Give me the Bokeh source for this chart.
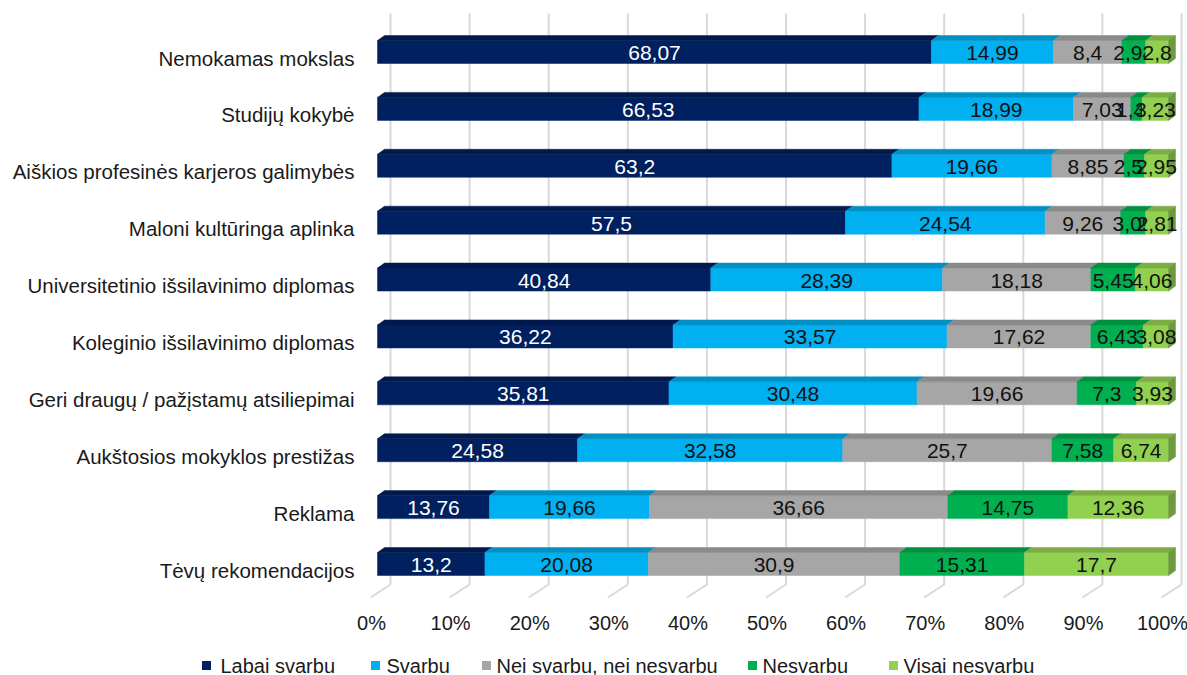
from bokeh.plotting import figure
from bokeh.models import Range1d
from bokeh.core.properties import value
from bokeh.embed import file_html
from bokeh.resources import INLINE

# ---------------- data ----------------
categories = [
    "Nemokamas mokslas",
    "Studijų kokybė",
    "Aiškios profesinės karjeros galimybės",
    "Maloni kultūringa aplinka",
    "Universitetinio išsilavinimo diplomas",
    "Koleginio išsilavinimo diplomas",
    "Geri draugų / pažįstamų atsiliepimai",
    "Aukštosios mokyklos prestižas",
    "Reklama",
    "Tėvų rekomendacijos",
]
series_names = ["Labai svarbu", "Svarbu", "Nei svarbu, nei nesvarbu", "Nesvarbu", "Visai nesvarbu"]
labai_svarbu = [68.07, 66.53, 63.2, 57.5, 40.84, 36.22, 35.81, 24.58, 13.76, 13.2]
svarbu = [14.99, 18.99, 19.66, 24.54, 28.39, 33.57, 30.48, 32.58, 19.66, 20.08]
nei_svarbu_nei_nesvarbu = [8.4, 7.03, 8.85, 9.26, 18.18, 17.62, 19.66, 25.7, 36.66, 30.9]
nesvarbu = [2.94, 1.41, 2.52, 3.09, 5.45, 6.43, 7.3, 7.58, 14.75, 15.31]
visai_nesvarbu = [2.8, 3.23, 2.95, 2.81, 4.06, 3.08, 3.93, 6.74, 12.36, 17.7]
tick_values = [0, 10, 20, 30, 40, 50, 60, 70, 80, 90, 100]
tick_labels = ["0%", "10%", "20%", "30%", "40%", "50%", "60%", "70%", "80%", "90%", "100%"]

series = [labai_svarbu, svarbu, nei_svarbu_nei_nesvarbu, nesvarbu, visai_nesvarbu]

# ---------------- style / layout ----------------
front_colors = ["#002060", "#00b0f0", "#a6a6a6", "#00b050", "#92d050"]
top_colors = ["#001a4d", "#0090c4", "#8a8a8a", "#00913f", "#7cad45"]
side_color = "#6c9a3c"
label_colors = ["#ffffff", "#111111", "#111111", "#111111", "#111111"]
FONT = value("Liberation Sans")

W, H = 1187, 675
ORIGIN = 0                 # page px where the canvas starts
PX_PER_PCT = 7.91          # horizontal scale
X0 = 377 - ORIGIN          # canvas px of 0 %
ROW0 = 51.5 - ORIGIN       # canvas px of first row centre
ROW_STEP = 56.89           # px between rows


def dxp(px):
    return px / PX_PER_PCT


def dyp(px):
    return px / ROW_STEP


def row_at(page_py):
    return (page_py - ORIGIN - ROW0) / ROW_STEP


def col_at(page_px):
    return (page_px - ORIGIN - X0) / PX_PER_PCT


BAR_H = dyp(23)
DEPTH_X = dxp(7)
DEPTH_Y = dyp(5)

p = figure(width=W, height=H, output_backend="svg", toolbar_location=None,
           x_range=Range1d(-X0 / PX_PER_PCT, (W - X0) / PX_PER_PCT),
           y_range=Range1d((H - ROW0) / ROW_STEP, -ROW0 / ROW_STEP),
           min_border=0, x_axis_location=None, y_axis_location=None)
p.outline_line_color = None
p.xgrid.visible = False
p.ygrid.visible = False
p.background_fill_color = "white"
p.border_fill_color = "white"

# ---- back wall / floor gridlines ----
g_xs, g_ys = [], []
for t in tick_values:
    g_xs.append([t + dxp(13), t + dxp(13), t + dxp(-7)])
    g_ys.append([row_at(13), row_at(584), row_at(597)])
p.multi_line(g_xs, g_ys, line_color="#d9d9d9", line_width=2)

# ---- bars ----
idx = list(range(len(categories)))
totals = [sum(s[i] for s in series) for i in idx]
cum = [0.0] * len(idx)
for k, s in enumerate(series):
    left = [cum[i] / totals[i] * 100 for i in idx]
    right = [(cum[i] + s[i]) / totals[i] * 100 for i in idx]
    cum = [cum[i] + s[i] for i in idx]
    # front face
    p.hbar(y=idx, left=left, right=right, height=BAR_H,
           fill_color=front_colors[k], line_color=front_colors[k], line_width=0.5)
    # top face
    txs, tys = [], []
    for i in idx:
        top = i - BAR_H / 2
        txs.append([left[i], right[i], right[i] + DEPTH_X, left[i] + DEPTH_X])
        tys.append([top, top, top - DEPTH_Y, top - DEPTH_Y])
    p.patches(txs, tys, fill_color=top_colors[k], line_color=top_colors[k], line_width=0.5)
    if k == len(series) - 1:
        sxs, sys_ = [], []
        for i in idx:
            top = i - BAR_H / 2
            bot = i + BAR_H / 2
            sxs.append([right[i], right[i] + DEPTH_X, right[i] + DEPTH_X, right[i]])
            sys_.append([top, top - DEPTH_Y, bot - DEPTH_Y, bot])
        p.patches(sxs, sys_, fill_color=side_color, line_color=side_color, line_width=0.5)
    # value labels
    mids = [(left[i] + right[i]) / 2 for i in idx]
    texts = [("%g" % s[i]).replace(".", ",") for i in idx]
    p.text(x=mids, y=idx, text=texts, text_align="center", text_baseline="middle",
           text_font=FONT, text_font_size="21px", text_color=label_colors[k], y_offset=1)

# ---- category labels ----
p.text(x=[0] * len(categories), y=idx, text=categories, x_offset=-23, y_offset=6,
       text_align="right", text_baseline="middle", text_font=FONT,
       text_font_size="20.5px", text_color="#1a1a1a")

# ---- x tick labels ----
p.text(x=tick_values, y=[row_at(622)] * len(tick_values), text=tick_labels, x_offset=-6,
       text_align="center", text_baseline="middle", text_font=FONT,
       text_font_size="20px", text_color="#1a1a1a")

# ---- legend ----
leg_square_px = [206, 375, 486, 752, 893]
leg_text_px = [220, 386, 496, 762, 903]
leg_y = row_at(665)
p.scatter(x=[col_at(px) for px in leg_square_px], y=[leg_y] * 5,
          marker="square", size=9, fill_color=front_colors, line_color=None)
p.text(x=[col_at(px) for px in leg_text_px], y=[leg_y] * 5, text=series_names,
       text_align="left", text_baseline="middle", text_font=FONT,
       text_font_size="20px", text_color="#1a1a1a")

open("out.html", "w").write(file_html(p, INLINE))
